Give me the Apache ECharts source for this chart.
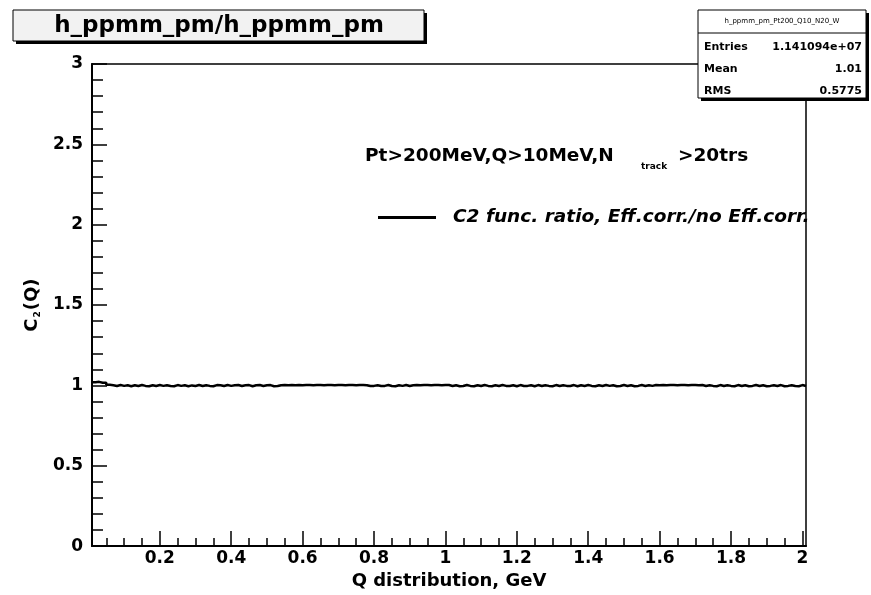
<!DOCTYPE html>
<html>
<head>
<meta charset="utf-8">
<script src="https://cdn.jsdelivr.net/npm/echarts@6/dist/echarts.min.js"></script>
<style>
html,body{margin:0;padding:0;background:#fff;}
#chart{width:871px;height:595px;}
</style>
</head>
<body>
<div id="chart"></div>
<script>
// Histogram: 200 bins of width 0.01 GeV from 0.01 to 2.01
var binLow = 0.01;
var binWidth = 0.01;
var ratioValues = [
  1.020,1.022,1.016,1.017,1.004,1.001,0.996,1.002,0.997,1.001,
  0.995,1.001,0.996,1.002,0.997,0.995,1.001,0.996,1.002,0.997,
  1.001,0.996,0.995,1.002,0.997,1.001,0.995,1.000,0.996,1.002,
  0.996,1.001,0.997,0.995,1.002,1.001,0.996,1.002,0.997,1.001,
  1.002,0.996,1.001,1.002,0.995,1.001,1.002,0.996,1.001,1.002,
  0.995,0.996,1.001,1.002,1.001,1.002,1.001,1.002,1.001,1.002,
  1.002,1.001,1.002,1.002,1.001,1.002,1.002,1.001,1.002,1.002,
  1.001,1.002,1.002,1.001,1.002,1.002,1.001,0.996,0.997,1.001,
  0.996,0.997,1.002,0.996,0.995,1.001,0.997,1.002,0.996,1.001,
  1.002,1.001,1.002,1.002,1.001,1.002,1.002,1.001,1.002,1.002,
  0.996,1.001,0.995,0.996,1.002,0.997,0.995,1.001,0.996,1.002,
  0.997,0.995,1.001,0.996,1.002,0.997,0.996,1.001,0.995,1.002,
  0.996,0.997,1.001,0.995,1.002,0.996,1.001,0.997,0.995,1.002,
  0.996,1.001,0.997,0.996,1.002,0.995,1.001,0.996,1.002,0.997,
  0.995,1.001,0.996,1.002,0.997,1.001,0.995,0.996,1.002,0.996,
  1.001,0.995,0.997,1.002,0.996,1.001,0.997,1.002,1.001,1.002,
  1.001,1.002,1.002,1.001,1.002,1.002,1.001,1.002,1.002,1.001,
  1.002,0.996,1.001,0.997,0.995,1.002,0.996,1.001,0.997,0.995,
  1.002,0.996,1.001,0.995,0.997,1.002,0.996,1.001,0.995,0.997,
  1.001,0.996,1.002,0.995,0.997,1.001,0.996,0.995,1.002,0.996
];
var xTickLabels = [0.2,0.4,0.6,0.8,1,1.2,1.4,1.6,1.8,2];
var xMinorStep = 0.05;
var yMin = 0, yMax = 3, yInterval = 0.5;
var seriesName = 'C2 func. ratio, Eff.corr./no Eff.corr.';
var titleText = 'h_ppmm_pm/h_ppmm_pm';
var statsName = 'h_ppmm_pm_Pt200_Q10_N20_W';
var statsLabels = ['Entries','Mean','RMS'];
var statsValues = ['1.141094e+07','1.01','0.5775'];

var xMin = binLow, xMax = binLow + binWidth * ratioValues.length;
var pts = [];
for (var i = 0; i < ratioValues.length; i++) {
  pts.push([binLow + i * binWidth, ratioValues[i]]);
}
pts.push([xMax, ratioValues[ratioValues.length - 1]]);

var minorTicks = [];
for (var k = 1; k * xMinorStep < xMax; k++) {
  var v = +(k * xMinorStep).toFixed(3);
  if (v > xMin) minorTicks.push(v);
}

var FONT = 'DejaVu Sans';
var chart = echarts.init(document.getElementById('chart'), null, {renderer: 'canvas'});

var statsGraphics = [
  {type:'rect', shape:{x:701,y:13,width:168,height:88}, style:{fill:'#000'}, z:100},
  {type:'rect', shape:{x:698,y:10,width:168,height:88}, style:{fill:'#fff',stroke:'#000',lineWidth:1}, z:101},
  {type:'line', shape:{x1:698,y1:33,x2:866,y2:33}, style:{stroke:'#000',lineWidth:1}, z:102},
  {type:'text', x:782, y:21, style:{text:statsName, font:'7px "'+FONT+'"', fill:'#000', align:'center', verticalAlign:'middle'}, z:102}
];
for (var s = 0; s < statsLabels.length; s++) {
  statsGraphics.push({type:'text', x:704, y:47 + s*22, style:{text:statsLabels[s], font:'bold 11px "'+FONT+'"', fill:'#000', align:'left', verticalAlign:'middle'}, z:102});
  statsGraphics.push({type:'text', x:862, y:47 + s*22, style:{text:statsValues[s], font:'bold 11px "'+FONT+'"', fill:'#000', align:'right', verticalAlign:'middle'}, z:102});
}

var option = {
  backgroundColor: '#fff',
  animation: false,
  textStyle: {fontFamily: FONT},
  grid: {left: 92, right: 65, top: 64, bottom: 48, show: true, borderColor: '#000', borderWidth: 1.5, backgroundColor: 'transparent'},
  legend: {
    show: true,
    data: [seriesName],
    left: 373, top: 203,
    icon: 'rect', itemWidth: 58, itemHeight: 3,
    textStyle: {fontFamily: FONT, fontSize: 18.5, fontWeight: 'bold', fontStyle: 'italic', color: '#000', padding: [0,0,0,12]}
  },
  xAxis: [{
    type: 'value', min: xMin, max: xMax,
    axisLine: {show: true, onZero: false, lineStyle: {color: '#000', width: 2}},
    axisTick: {show: true, inside: true, length: 15, customValues: xTickLabels, lineStyle: {color: '#000', width: 1.5}},
    axisLabel: {show: true, customValues: xTickLabels, color: '#000', fontFamily: FONT, fontWeight: 'bold', fontSize: 17, margin: 4, formatter: function(v){ return String(+v.toFixed(2)); }},
    splitLine: {show: false},
    name: 'Q distribution, GeV', nameLocation: 'middle', nameGap: 24,
    nameTextStyle: {color: '#000', fontFamily: FONT, fontWeight: 'bold', fontSize: 18}
  }, {
    type: 'value', min: xMin, max: xMax, position: 'bottom',
    axisLine: {show: false},
    axisTick: {show: true, inside: true, length: 8, customValues: minorTicks, lineStyle: {color: '#000', width: 1.5}},
    axisLabel: {show: false},
    splitLine: {show: false}
  }],
  yAxis: {
    type: 'value', min: yMin, max: yMax, interval: yInterval,
    axisLine: {show: true, onZero: false, lineStyle: {color: '#000', width: 2}},
    axisTick: {show: true, inside: true, length: 15, lineStyle: {color: '#000', width: 1.5}},
    minorTick: {show: true, splitNumber: 5, length: 11, lineStyle: {color: '#000', width: 1.5}},
    axisLabel: {color: '#000', fontFamily: FONT, fontWeight: 'bold', fontSize: 17, margin: 9, formatter: function(v){ return String(+v.toFixed(2)); }},
    splitLine: {show: false},
    minorSplitLine: {show: false},
    name: 'C{sub|2}(Q)', nameLocation: 'middle', nameGap: 46, nameRotate: 90,
    nameTextStyle: {color: '#000', fontFamily: FONT, fontWeight: 'bold', fontSize: 18,
      rich: {sub: {fontFamily: FONT, fontWeight: 'bold', fontSize: 9, color: '#000', verticalAlign: 'bottom', padding: [10,1,0,1]}}}
  },
  series: [{
    name: seriesName,
    type: 'line',
    xAxisIndex: 0,
    step: 'end',
    data: pts,
    showSymbol: false,
    symbol: 'none',
    itemStyle: {color: '#000'},
    lineStyle: {color: '#000', width: 2.5},
    z: 5
  }],
  graphic: [
    {type:'rect', shape:{x:16,y:13,width:411,height:31}, style:{fill:'#000'}, z:100},
    {type:'rect', shape:{x:13,y:10,width:411,height:31}, style:{fill:'#f2f2f2',stroke:'#000',lineWidth:1}, z:101},
    {type:'text', x:219, y:26, style:{text:titleText, font:'bold 23px "'+FONT+'"', fill:'#000', align:'center', verticalAlign:'middle'}, z:102},
    {type:'text', x:365, y:156, style:{text:'Pt>200MeV,Q>10MeV,N', font:'bold 18.5px "'+FONT+'"', fill:'#000', align:'left', verticalAlign:'middle'}, z:50},
    {type:'text', x:641, y:167, style:{text:'track', font:'bold 9px "'+FONT+'"', fill:'#000', align:'left', verticalAlign:'middle'}, z:50},
    {type:'text', x:678, y:156, style:{text:'>20trs', font:'bold 18.5px "'+FONT+'"', fill:'#000', align:'left', verticalAlign:'middle'}, z:50}
  ].concat(statsGraphics)
};
chart.setOption(option);
</script>
</body>
</html>
